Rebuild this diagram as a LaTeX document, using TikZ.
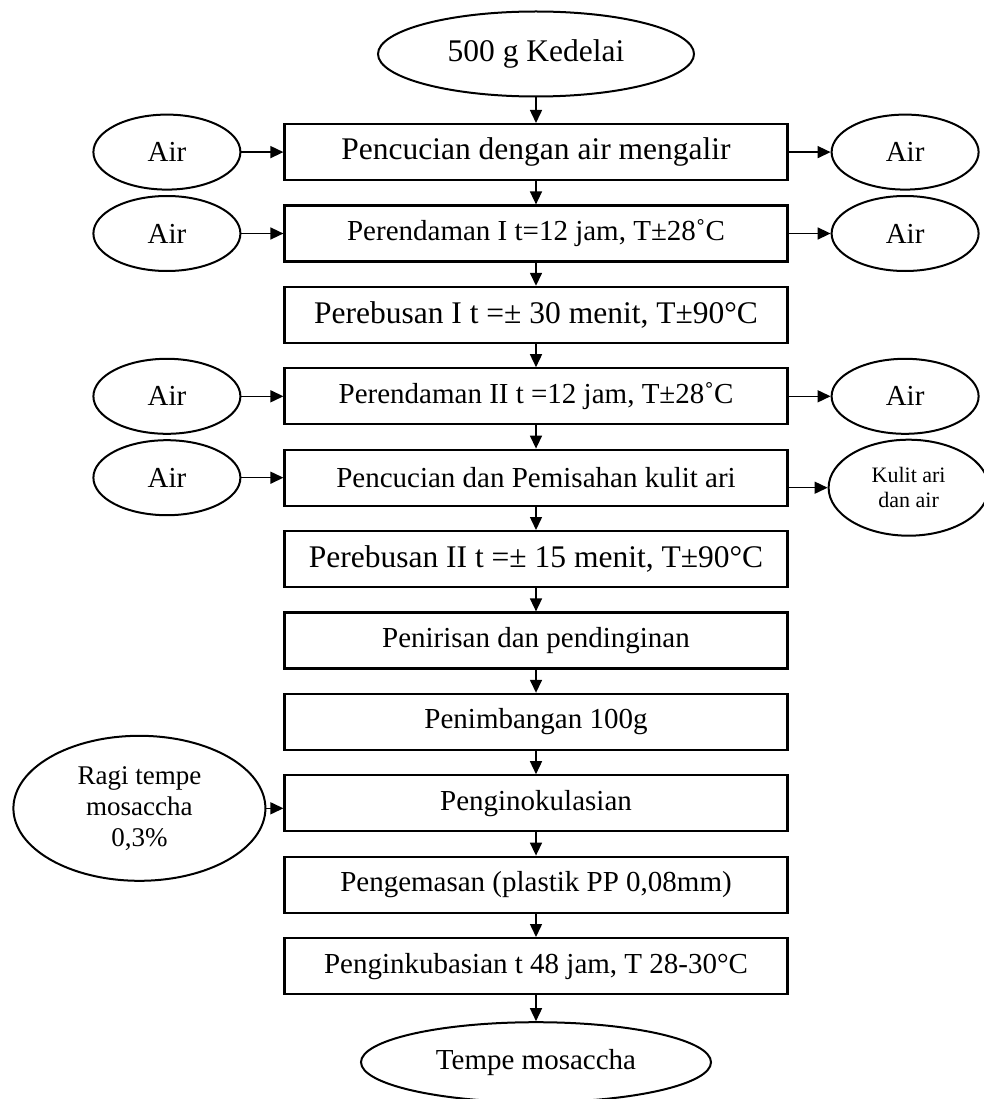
\documentclass[tikz,border=0pt]{standalone}
\usepackage{fontspec}
\setmainfont{Liberation Serif}
\usetikzlibrary{shapes.geometric, arrows.meta, positioning}

\begin{document}
\begin{tikzpicture}[
      x=1pt, y=-1pt,
      node distance=23.2pt and 42pt,
      proc/.style={rectangle, draw, line width=2.2pt, minimum width=503pt, minimum height=56pt, align=center, font=\fontsize{29}{34}\selectfont},
      big/.style={font=\fontsize{31.5}{37}\selectfont},
      term/.style={ellipse, draw, line width=2pt, inner sep=0pt, minimum height=85pt, align=center, font=\fontsize{29}{34}\selectfont},
      side/.style={ellipse, draw, line width=2pt, inner sep=0pt, minimum width=147pt, minimum height=75pt, align=center, font=\fontsize{29}{34}\selectfont},
      arrow/.style={-{Triangle[length=13pt, width=12pt]}, line width=1.5pt}
    ]
    \useasboundingbox (0,0) rectangle (983,1099);

    \node[term, big, minimum width=316pt] (kedelai) at (536,54) {500 g Kedelai};

    \node[proc, big, below=25.5pt of kedelai] (cuci) {Pencucian dengan air mengalir};
    \node[proc, below=of cuci] (rendam1) {Perendaman I t=12 jam, T±28˚C};
    \node[proc, big, below=of rendam1] (rebus1) {Perebusan I t =± 30 menit, T±90°C};
    \node[proc, below=of rebus1] (rendam2) {Perendaman II t =12 jam, T±28˚C};
    \node[proc, below=of rendam2] (pisah) {Pencucian dan Pemisahan kulit ari};
    \node[proc, big, below=of pisah] (rebus2) {Perebusan II t =± 15 menit, T±90°C};
    \node[proc, below=of rebus2] (tiris) {Penirisan dan pendinginan};
    \node[proc, below=of tiris] (timbang) {Penimbangan 100g};
    \node[proc, below=of timbang] (inokul) {Penginokulasian};
    \node[proc, below=of inokul] (kemas) {Pengemasan (plastik PP 0,08mm)};
    \node[proc, below=of kemas] (inkubasi) {Penginkubasian t 48 jam, T 28-30°C};

    \node[term, minimum width=350pt, minimum height=80pt, below=26pt of inkubasi] (tempe) {Tempe mosaccha};

    % air masuk / keluar
    \node[side, left=of cuci] (air1l) {Air};
    \node[side, right=of cuci] (air1r) {Air};
    \node[side, left=of rendam1] (air2l) {Air};
    \node[side, right=of rendam1] (air2r) {Air};
    \node[side, left=of rendam2] (air4l) {Air};
    \node[side, right=of rendam2] (air4r) {Air};
    \node[side, left=of pisah] (air5l) {Air};
    \node[side, right=39pt of pisah, yshift=-10pt, minimum width=160pt, minimum height=96pt, font=\fontsize{22}{25}\selectfont] (kulit) {Kulit ari\\dan air};
    \node[side, left=17pt of inokul, yshift=-5pt, minimum width=252pt, minimum height=145pt, font=\fontsize{27}{31}\selectfont] (ragi) {Ragi tempe\\mosaccha\\0,3\%};

    \draw[arrow] (kedelai) -- (cuci);
    \draw[arrow] (cuci) -- (rendam1);
    \draw[arrow] (rendam1) -- (rebus1);
    \draw[arrow] (rebus1) -- (rendam2);
    \draw[arrow] (rendam2) -- (pisah);
    \draw[arrow] (pisah) -- (rebus2);
    \draw[arrow] (rebus2) -- (tiris);
    \draw[arrow] (tiris) -- (timbang);
    \draw[arrow] (timbang) -- (inokul);
    \draw[arrow] (inokul) -- (kemas);
    \draw[arrow] (kemas) -- (inkubasi);
    \draw[arrow] (inkubasi) -- (tempe);

    \draw[arrow] (air1l) -- (cuci);
    \draw[arrow] (cuci) -- (air1r);
    \draw[arrow] (air2l) -- (rendam1);
    \draw[arrow] (rendam1) -- (air2r);
    \draw[arrow] (air4l) -- (rendam2);
    \draw[arrow] (rendam2) -- (air4r);
    \draw[arrow] (air5l) -- (pisah);
    \draw[arrow] (pisah.east |- kulit) -- (kulit);
    \draw[arrow] (ragi) -- (ragi -| inokul.west);
  \end{tikzpicture}
\end{document}
